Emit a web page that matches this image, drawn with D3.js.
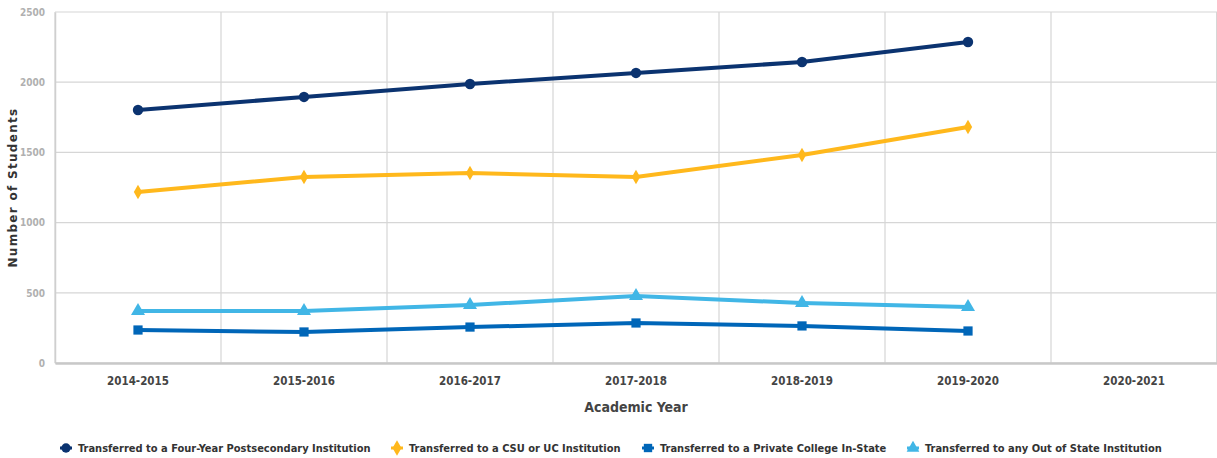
<!DOCTYPE html>
<html>
<head>
<meta charset="utf-8">
<script src="https://cdn.jsdelivr.net/npm/d3@7"></script>
<style>
    body { margin: 0; background: #fff; }
    svg { display: block; }
    .cond { font-family: "DejaVu Sans", sans-serif; font-stretch: condensed; font-weight: bold; }
</style>
</head>
<body>
<div id="chart"></div>
<script>
var years = ['2014-2015', '2015-2016', '2016-2017', '2017-2018', '2018-2019', '2019-2020', '2020-2021']
var fourYear = [1802, 1895, 1987, 2066, 2144, 2286]
var csuUc = [1218, 1325, 1353, 1325, 1481, 1681]
var privateInState = [235, 221, 256, 285, 264, 228]
var outOfState = [370, 370, 413, 477, 427, 399]
var yTicks = [0, 500, 1000, 1500, 2000, 2500]

var series = [
    { name: 'Transferred to a Four-Year Postsecondary Institution', values: fourYear, color: '#0b3370', symbol: d3.symbolCircle },
    { name: 'Transferred to a CSU or UC Institution', values: csuUc, color: '#ffb81c', symbol: d3.symbolDiamond },
    { name: 'Transferred to a Private College In-State', values: privateInState, color: '#0066b8', symbol: d3.symbolSquare },
    { name: 'Transferred to any Out of State Institution', values: outOfState, color: '#41b6e6', symbol: d3.symbolTriangle }
]

var width = 1217
var height = 458
var marginLeft = 55
var marginRight = 0
var marginTop = 12
var marginBottom = 95
var W = width - marginLeft - marginRight
var H = height - marginTop - marginBottom

var svg = d3.select('#chart').append('svg')
    .attr('width', width)
    .attr('height', height)
var rootG = svg.append('g')
    .attr('transform', 'translate(' + marginLeft + ',' + marginTop + ')')

var X = d3.scaleBand().domain(years).range([0, W])
var Y = d3.scaleLinear().domain([0, 2500]).range([H, 0])

// 网格
rootG.append('g')
    .selectAll('line')
    .data(yTicks)
    .enter()
    .append('line')
    .attr('x1', 0)
    .attr('x2', W)
    .attr('y1', function (d) { return Y(d) })
    .attr('y2', function (d) { return Y(d) })
    .attr('stroke', '#d6d6d6')
    .attr('stroke-width', 1.2)
rootG.append('g')
    .selectAll('line')
    .data(years)
    .enter()
    .append('line')
    .attr('x1', function (d) { return X(d) })
    .attr('x2', function (d) { return X(d) })
    .attr('y1', 0)
    .attr('y2', H)
    .attr('stroke', '#d6d6d6')
    .attr('stroke-width', 1.2)
rootG.append('line')
    .attr('x1', W - 0.5).attr('x2', W - 0.5)
    .attr('y1', 0).attr('y2', H)
    .attr('stroke', '#d6d6d6')

// 坐标轴
var yAxisG = rootG.append('g')
    .call(d3.axisLeft(Y).tickValues(yTicks).tickFormat(d3.format('d')).tickSize(0).tickPadding(10))
yAxisG.select('.domain').attr('stroke', '#cfcfcf').attr('stroke-width', 1.5)
yAxisG.selectAll('text')
    .attr('class', 'cond')
    .attr('fill', '#b0b0b0')
    .attr('font-size', 10)

var xAxisG = rootG.append('g')
    .attr('transform', 'translate(0,' + H + ')')
    .call(d3.axisBottom(X).tickSize(0).tickPadding(14))
xAxisG.select('.domain').attr('stroke', '#c8c8c8').attr('stroke-width', 2.5)
xAxisG.selectAll('text')
    .attr('class', 'cond')
    .attr('fill', '#444')
    .attr('font-size', 11.5)

svg.append('text')
    .attr('class', 'cond')
    .attr('x', marginLeft + W / 2)
    .attr('y', 412)
    .attr('text-anchor', 'middle')
    .attr('fill', '#444')
    .attr('font-size', 14)
    .text('Academic Year')

svg.append('text')
    .attr('transform', 'translate(17,' + (marginTop + H / 2) + ') rotate(-90)')
    .attr('text-anchor', 'middle')
    .attr('fill', '#333')
    .attr('font-size', 12)
    .attr('font-weight', 'bold')
    .attr('letter-spacing', 1.3)
    .attr('font-family', '"DejaVu Sans", sans-serif')
    .text('Number of Students')

// 折线
var line = d3.line()
    .x(function (d, i) { return X(years[i]) + X.bandwidth() / 2 })
    .y(function (d) { return Y(d) })

var seriesG = rootG.selectAll('g.series')
    .data(series)
    .enter()
    .append('g')
    .attr('class', 'series')
seriesG.append('path')
    .attr('d', function (d) { return line(d.values) })
    .attr('fill', 'none')
    .attr('stroke', function (d) { return d.color })
    .attr('stroke-width', 4)
seriesG.selectAll('path.mark')
    .data(function (d) { return d.values.map(function (v, i) { return { v: v, i: i, s: d } }) })
    .enter()
    .append('path')
    .attr('class', 'mark')
    .attr('transform', function (d) {
        return 'translate(' + (X(years[d.i]) + X.bandwidth() / 2) + ',' + Y(d.v) + ')'
    })
    .attr('d', function (d) { return d3.symbol().type(d.s.symbol).size(d.s.symbol === d3.symbolDiamond ? 60 : 85)() })
    .attr('fill', function (d) { return d.s.color })

// 图例
var legendX = [66, 397, 648, 913]
var legend = svg.append('g')
    .selectAll('g')
    .data(series)
    .enter()
    .append('g')
    .attr('transform', function (d, i) { return 'translate(' + legendX[i] + ',448)' })
legend.append('line')
    .attr('x1', -6).attr('x2', 6)
    .attr('stroke', function (d) { return d.color })
    .attr('stroke-width', 3)
legend.append('path')
    .attr('d', function (d) { return d3.symbol().type(d.symbol).size(70)() })
    .attr('fill', function (d) { return d.color })
legend.append('text')
    .attr('class', 'cond')
    .attr('x', 12)
    .attr('dy', '0.35em')
    .attr('fill', '#333')
    .attr('font-size', 11)
    .text(function (d) { return d.name })
</script>
</body>
</html>
